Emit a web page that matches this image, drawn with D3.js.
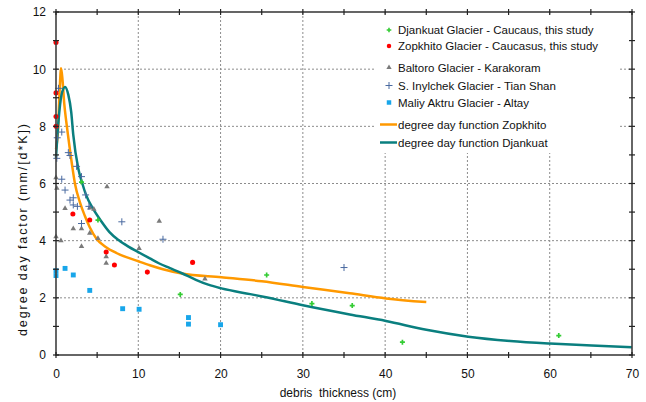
<!DOCTYPE html>
<html>
<head>
<meta charset="utf-8">
<script src="https://cdn.jsdelivr.net/npm/d3@7"></script>
<style>
  html, body { margin: 0; padding: 0; background: #fff; }
  svg { display: block; font-family: "Liberation Sans", Arial, sans-serif; }
</style>
</head>
<body>
<svg id="chart" width="646" height="402"></svg>
<script>
// ---- data ----
const xTickValues = [0, 10, 20, 30, 40, 50, 60, 70];
const yTickValues = [0, 2, 4, 6, 8, 10, 12];

const djankuatPts = [[3.1, 6.05], [5.1, 4.72], [15.1, 2.12], [25.6, 2.8], [31.1, 1.8], [36.0, 1.73], [42.1, 0.45], [61.1, 0.68]];
const zopkhitoPts = [[0, 10.93], [0, 9.17], [0, 8.34], [0, 8.0], [2.05, 4.93], [4.1, 4.72], [6.1, 3.6], [7.1, 3.15], [11.1, 2.9], [16.6, 3.24]];
const baltoroPts = [[0, 6.2], [0.1, 5.84], [0, 4.14], [0.6, 4.0], [1.1, 5.13], [2.1, 4.42], [3.1, 4.42], [3.1, 3.8], [4.1, 5.15], [4.6, 5.1], [4.1, 4.26], [5.1, 4.08], [6.2, 5.89], [6.1, 3.44], [6.1, 3.21], [10.1, 3.73], [12.55, 4.68], [18.1, 2.66]];
const inylchekPts = [[0.3, 9.33], [0.15, 7.6], [0.7, 7.8], [0.1, 6.88], [1.5, 7.08], [1.7, 6.98], [2.5, 6.6], [3.1, 6.24], [0.7, 6.15], [1.1, 5.77], [1.7, 5.42], [2.1, 5.5], [2.1, 5.25], [2.6, 5.2], [3.6, 5.6], [4.0, 5.2], [3.1, 4.6], [8.0, 4.66], [13.0, 4.05], [35.0, 3.06]];
const aktruPts = [[0, 2.95], [0, 2.78], [1.1, 3.03], [2.1, 2.8], [4.1, 2.26], [8.1, 1.62], [10.1, 1.6], [16.1, 1.31], [16.1, 1.08], [20.0, 1.06]];

const zopkhitoCurve = [[0, 7.2], [0.25, 7.9], [0.45, 9.3], [0.62, 10.03], [0.8, 9.6], [1.0, 8.8], [1.25, 8.16], [1.5, 7.6], [2.0, 6.55], [2.3, 6.0], [2.9, 5.35], [3.5, 4.87], [4.1, 4.47], [4.94, 4.06], [6.0, 3.79], [7.4, 3.56], [10.1, 3.27], [11.4, 3.14], [13.0, 3.0], [15.3, 2.85], [20.1, 2.72], [25.0, 2.58], [30.0, 2.38], [35.7, 2.16], [40.1, 1.98], [45.0, 1.85]];
const djankuatCurve = [[0, 6.9], [0.15, 7.6], [0.4, 8.5], [0.75, 9.2], [1.1, 9.38], [1.5, 9.1], [1.85, 8.5], [2.1, 7.7], [2.7, 6.53], [3.2, 6.0], [3.65, 5.6], [4.5, 5.12], [5.5, 4.68], [6.5, 4.3], [7.6, 4.02], [8.8, 3.79], [10.0, 3.6], [11.4, 3.38], [12.5, 3.21], [13.85, 3.04], [15.3, 2.86], [17.0, 2.63], [18.5, 2.46], [20.1, 2.33], [23.6, 2.13], [25.2, 2.04], [30.0, 1.74], [35.7, 1.42], [40.1, 1.19], [45.0, 0.88], [50.1, 0.64], [55.2, 0.49], [60.0, 0.4], [65.1, 0.33], [70.0, 0.27]];

const legendLabels = [
  "Djankuat Glacier - Caucaus, this study",
  "Zopkhito Glacier - Caucasus, this study",
  "Baltoro Glacier - Karakoram",
  "S. Inylchek Glacier - Tian Shan",
  "Maliy Aktru Glacier - Altay",
  "degree day function Zopkhito",
  "degree day function Djankuat"
];

// ---- chart ----
const svg = d3.select("#chart");
const L = 56, R = 632, T = 12, B = 355;
const x = d3.scaleLinear().domain([0, 70]).range([L, R]);
const y = d3.scaleLinear().domain([0, 12]).range([B, T]);

const colors = {
  djankuat: "#33cc33", zopkhito: "#ff0000", baltoro: "#7a7a7a",
  inylchek: "#4a6aa0", aktru: "#18a6ea", zCurve: "#ff9900", dCurve: "#0a7f7f"
};

// gridlines
const grid = svg.append("g").attr("stroke", "#8c8c8c").attr("stroke-width", 1).attr("stroke-dasharray", "2,2");
xTickValues.filter(v => v > 0 && v < 70).forEach(v => {
  grid.append("line").attr("x1", x(v)).attr("x2", x(v)).attr("y1", T).attr("y2", B);
});
yTickValues.filter(v => v > 0 && v < 12).forEach(v => {
  grid.append("line").attr("x1", L).attr("x2", R).attr("y1", y(v)).attr("y2", y(v));
});

// legend background
svg.append("rect").attr("x", 376).attr("y", 15).attr("width", 243).attr("height", 138).attr("fill", "#fff");

// curves
const line = d3.line().x(d => x(d[0])).y(d => y(d[1])).curve(d3.curveMonotoneX);
svg.append("path").datum(zopkhitoCurve).attr("d", line).attr("fill", "none")
  .attr("stroke", colors.zCurve).attr("stroke-width", 2.5);
svg.append("path").datum(djankuatCurve).attr("d", line).attr("fill", "none")
  .attr("stroke", colors.dCurve).attr("stroke-width", 2.5);

// markers
function drawSymbol(g, data, type, size, color) {
  g.selectAll(null).data(data).enter().append("path")
    .attr("transform", d => `translate(${x(d[0])},${y(d[1])})`)
    .attr("d", d3.symbol().type(type).size(size)())
    .attr("fill", color);
}
function drawPlus(g, data, half, color) {
  g.selectAll(null).data(data).enter().append("path")
    .attr("transform", d => `translate(${x(d[0])},${y(d[1])})`)
    .attr("d", `M${-half},0H${half}M0,${-half}V${half}`)
    .attr("stroke", color).attr("stroke-width", 1).attr("fill", "none");
}
const pts = svg.append("g");
drawSymbol(pts, baltoroPts, d3.symbolTriangle, 13, colors.baltoro);
drawPlus(pts, inylchekPts, 3.5, colors.inylchek);
drawSymbol(pts, aktruPts, d3.symbolSquare, 24, colors.aktru);
drawSymbol(pts, zopkhitoPts, d3.symbolCircle, 20, colors.zopkhito);
drawSymbol(pts, djankuatPts, d3.symbolCross, 14, colors.djankuat);

// frame
const frame = svg.append("g").attr("stroke", "#404040").attr("stroke-width", 1.6).attr("fill", "none");
frame.append("rect").attr("x", L).attr("y", T).attr("width", R - L).attr("height", B - T);

// tick marks (crossing the frame)
const tk = svg.append("g").attr("stroke", "#222").attr("stroke-width", 1.2);
d3.range(0, 71, 5).forEach(v => {
  tk.append("line").attr("x1", x(v)).attr("x2", x(v)).attr("y1", B - 3).attr("y2", B + 3);
  tk.append("line").attr("x1", x(v)).attr("x2", x(v)).attr("y1", T - 3).attr("y2", T + 3);
});
d3.range(0, 13, 1).forEach(v => {
  tk.append("line").attr("x1", L - 3).attr("x2", L + 3).attr("y1", y(v)).attr("y2", y(v));
  tk.append("line").attr("x1", R - 3).attr("x2", R + 3).attr("y1", y(v)).attr("y2", y(v));
});

// axis labels via d3 axes (tick size 0, labels only)
const xAxis = svg.append("g").attr("transform", `translate(0,${B})`)
  .call(d3.axisBottom(x).tickValues(xTickValues).tickSize(0).tickPadding(14));
const yAxis = svg.append("g").attr("transform", `translate(${L},0)`)
  .call(d3.axisLeft(y).tickValues(yTickValues).tickSize(0).tickPadding(10));
[xAxis, yAxis].forEach(a => {
  a.select(".domain").remove();
  a.selectAll("text").attr("font-size", 12).attr("fill", "#111").attr("font-family", "Liberation Sans, Arial, sans-serif");
});

svg.append("text").attr("x", 338).attr("y", 397).attr("text-anchor", "middle")
  .attr("font-size", 12).attr("fill", "#111").attr("xml:space", "preserve")
  .style("white-space", "pre")
  .text("debris  thickness (cm)");
svg.append("text").attr("transform", "translate(27,230) rotate(-90)").attr("text-anchor", "middle")
  .attr("font-size", 12.5).attr("fill", "#111")
  .attr("textLength", 212).attr("lengthAdjust", "spacing")
  .text("degree day factor (mm/[d*K])");

// legend
const legY = [30, 46, 67.5, 85.5, 102.5, 124.5, 142.5];
const lg = svg.append("g").attr("font-size", 11.5).attr("fill", "#111");
const mx = 389;
lg.append("path").attr("transform", `translate(${mx},${legY[0]})`).attr("d", d3.symbol().type(d3.symbolCross).size(12)()).attr("fill", colors.djankuat);
lg.append("path").attr("transform", `translate(${mx},${legY[1]})`).attr("d", d3.symbol().type(d3.symbolCircle).size(16)()).attr("fill", colors.zopkhito);
lg.append("path").attr("transform", `translate(${mx},${legY[2]})`).attr("d", d3.symbol().type(d3.symbolTriangle).size(12)()).attr("fill", colors.baltoro);
lg.append("path").attr("transform", `translate(${mx},${legY[3]})`).attr("d", "M-3.5,0H3.5M0,-3.5V3.5").attr("stroke", colors.inylchek).attr("stroke-width", 1);
lg.append("path").attr("transform", `translate(${mx},${legY[4]})`).attr("d", d3.symbol().type(d3.symbolSquare).size(20)()).attr("fill", colors.aktru);
lg.append("line").attr("x1", 380).attr("x2", 397).attr("y1", legY[5]).attr("y2", legY[5]).attr("stroke", colors.zCurve).attr("stroke-width", 2.5);
lg.append("line").attr("x1", 380).attr("x2", 397).attr("y1", legY[6]).attr("y2", legY[6]).attr("stroke", colors.dCurve).attr("stroke-width", 2.5);
legendLabels.forEach((t, i) => {
  lg.append("text").attr("x", 398).attr("y", legY[i]).attr("dy", "0.35em").text(t);
});
</script>
</body>
</html>
